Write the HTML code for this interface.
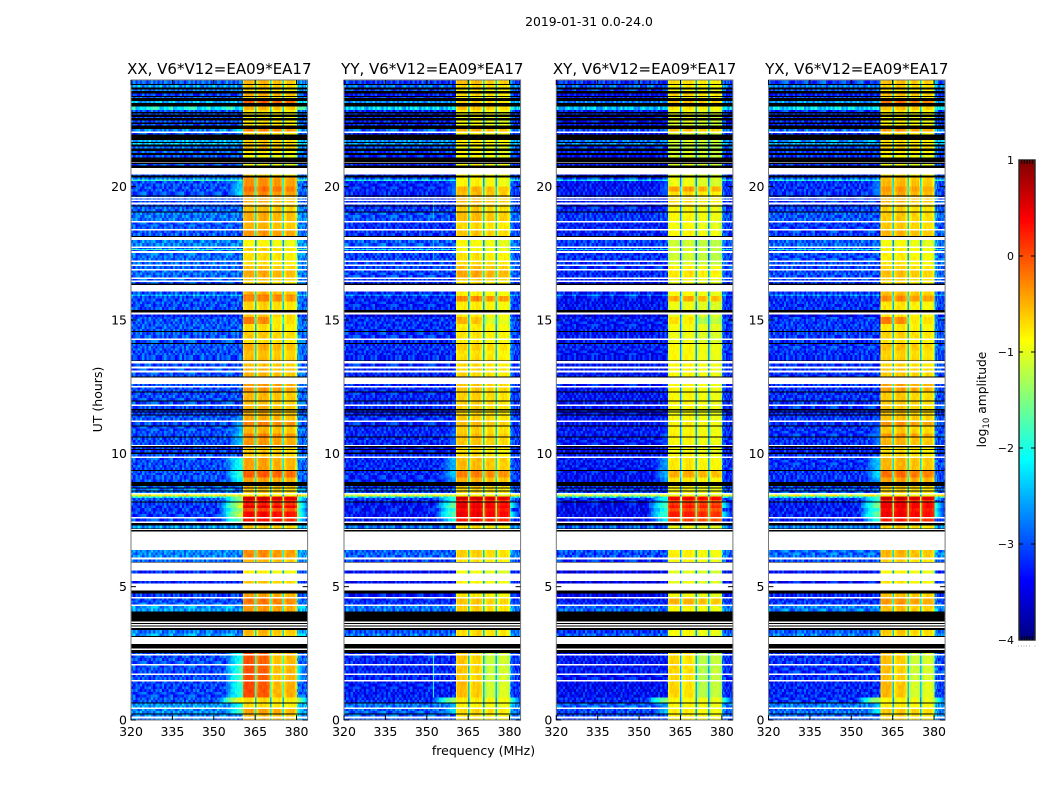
<!DOCTYPE html>
<html>
<head>
<meta charset="utf-8">
<title>2019-01-31 0.0-24.0</title>
<style>
html,body{margin:0;padding:0;background:#fff;width:1050px;height:800px;overflow:hidden}
svg{display:block}
text{font-family:"DejaVu Sans","Liberation Sans",sans-serif;fill:#000}
</style>
</head>
<body>
<svg id="figure" xmlns="http://www.w3.org/2000/svg" width="1050" height="800" viewBox="0 0 1050 800">
  <text x="589" y="26" font-size="12.4" text-anchor="middle">2019-01-31 0.0-24.0</text>
  <text x="483.5" y="755" font-size="12.5" text-anchor="middle">frequency (MHz)</text>
  <text transform="translate(102,399.5) rotate(-90)" font-size="12.5" text-anchor="middle">UT (hours)</text>
  <text transform="translate(986,399.5) rotate(-90)" font-size="12.3" text-anchor="middle">log<tspan font-size="8.6" dy="3">10</tspan><tspan dy="-3"> amplitude</tspan></text>
  <g id="panels"></g>
  <g id="colorbar"></g>
</svg>
<script>
// ---- chart data ----
const panelTitles = ["XX, V6*V12=EA09*EA17", "YY, V6*V12=EA09*EA17", "XY, V6*V12=EA09*EA17", "YX, V6*V12=EA09*EA17"];
const panelNames = ["xx", "yy", "xy", "yx"];
const freqTicks = [320, 335, 350, 365, 380];
const hourTicks = [0, 5, 10, 15, 20];
const colorbarTicks = [-4, -3, -2, -1, 0, 1];
const panelBgShift = [0, -0.2, -0.3, -0.15];
const panelShoulderShift = [0, -0.5, -0.6, -0.4];
const panelLobeShift = [0, -0.08, -0.15, -0.05];
// gain (dex) of each 0.5 MHz channel from 360.5 to 380 MHz relative to the band level
const channelGain = [-.2,-.05,0,0,0,0,0,-.05,-.2,-1.8,-.25,-.1,0,0,0,.05,.05,0,-.1,-.3,-1.8,-.3,-.15,-.05,-.05,-.05,-.05,-.1,-.25,-1.8,-.35,-.2,-.1,-.1,-.1,-.1,-.1,-.15,-.3];
// per-lobe gain used during the quiet stretches marked with a 1 in timeBands
const quietLobeGain = [.1, 0, -.4, -.3];
// drop (dex) of the shoulder below the band for channels from 350.4 to 359.2 MHz
const shoulderDrop = [2.2,2,1.8,1.5,1.2,.9,.7,.5,.35,.2,.1,0];
// offset (dex) and shoulder drop of channels from 380 to 384 MHz
const outerGain = [.55,.3,.2,.15,.1,.1,.1,.1];
const outerDrop = [.2,.4,.6,.8,1,1.2,1.4,1.6];
// hand-typed speckle tile, digits 0-9
const speckleTile = [
"38162750493716285","62047381925064173","17395062841739206","50826194370582613",
"94271836052947381","26503917468120594","71849250361784925","03672185940362718",
"85930416272859041","41257893016425783","69014327588960142"
];
// [panel index, MHz, lower hour, upper hour, level] narrow interference traces
const rfiTraces = [[1,352.2,0.85,2.5,-2.1],[1,352.2,18.8,19.5,-2.4],[1,352.2,17.3,18.0,-2.5]];
// [lower hour, noise level, XX band, YY band, XY band, YX band, shoulder level, quiet flag] or [lower hour, flag]
const timeBands = [
[23.85,-2.9,-.5,-.45,-.55,-.5],[23.81,'k'],[23.71,-2.6,-.6,-.6,-.65,-.6],[23.65,'k'],[23.59,-2.8,-.7,-.7,-.75,-.7],
[23.5,'k'],[23.4,-3.1,-.45,-.6,-.5,-.5],[23.36,'k'],[23.32,-2.9,-.7,-.8,-.75,-.7],[23.22,'k'],[23.14,-2.5,-.05,-.55,-.4,-.1],
[23.0,'k'],[22.87,-2.1,-.5,-.5,-.6,-.5],[22.8,-3.0,-.7,-.7,-.75,-.7],[22.75,'k'],[22.7,-3.0,-.8,-.8,-.8,-.8],[22.62,'k'],
[22.57,-3,-.8,-.85,-.85,-.8],[22.48,'k'],[22.41,-3.05,-.75,-.85,-.85,-.8],[22.35,'k'],[22.3,-3,-.7,-.8,-.9,-.75],[22.17,'k'],
[22.07,-2.7,-.25,-.4,-.4,-.3,-2.2],[22.01,'w'],[21.95,-3,-.7,-.8,-.9,-.75],[21.75,'k'],[21.68,-2.5,-.6,-.7,-.9,-.65],[21.64,'k'],
[21.58,-2.4,-.6,-.7,-.95,-.65],[21.5,'k'],[21.43,-2.8,-.55,-.85,-1,-.6],[21.34,'k'],[21.26,-2.9,-.75,-.8,-.9,-.7],[21.18,'k'],
[21.09,-3,-.9,-.8,-.9,-.85],[20.93,'k'],[20.9,'w'],[20.85,'k'],[20.8,-3,-.9,-.75,-.85,-.85],[20.7,'k'],[20.46,'w'],
[20.42,-3,-.7,-.75,-.85,-.7],[20.34,'k'],[20.27,-2.8,-.35,-.75,-.8,-.5],[20.22,-1.9,-.3,-.75,-.8,-.5],[20.0,-3,-.3,-.75,-.8,-.45,-2.4],
[19.82,-3,-.15,-.4,-.25,-.3,-2.3],[19.67,-3,-.3,-.45,-.55,-.4,-2.3],[19.64,'k'],[19.62,-2.9,-.45,-.45,-.55,-.45],[19.58,'w'],
[19.52,-3,-.45,-.45,-.55,-.45],[19.47,'w'],[19.4,-3,-.5,-.45,-.55,-.5],[19.33,'w'],[19.3,-3,-.55,-.5,-.6,-.55],[19.25,'k'],
[19.07,-2.9,-.55,-.55,-.7,-.6],[19.04,'k'],[18.71,-2.8,-.45,-.45,-.7,-.55],[18.67,'w'],[18.42,-2.95,-.5,-.6,-.75,-.55],[18.38,'w'],
[18.15,-2.95,-.35,-.5,-.7,-.45],[18.12,'k'],[18.0,'w'],[17.76,-2.75,-.85,-.8,-.95,-.85],[17.7,'w'],[17.66,-2.9,-.7,-.8,-.9,-.8],[17.62,-1.9,-.6,-.8,-.9,-.7],[17.59,-2.9,-.7,-.8,-.9,-.8],[17.52,'w'],
[17.23,-2.85,-.7,-.65,-.95,-.75],[17.19,'w'],[17.09,-2.85,-.7,-.6,-.9,-.7],[17.05,'w'],[16.92,-2.85,-.55,-.45,-.65,-.6],[16.87,'w'],
[16.59,-2.85,-.45,-.35,-.6,-.5],[16.53,'w'],[16.48,-2.9,-.6,-.55,-.7,-.6],[16.44,'w'],[16.36,-3,-.7,-.7,-.8,-.7],[16.31,'k'],[16.06,'w'],
[15.95,-3,-.5,-.7,-.7,-.5],[15.9,-2.5,-.2,-.7,-.75,-.4],[15.7,-3,-.25,-.2,-.3,-.25],[15.375,-3,-.65,-.7,-.8,-.7],[15.275,'k'],[15.22,'w'],
[15.12,-3.3,-.6,-.7,-.8,-.7],[14.85,-2.95,-.3,-.5,-.65,-.25,null,1],[14.58,-2.95,-.7,-.7,-.75,-.7],[14.55,'k'],[14.31,-2.95,-.6,-.65,-.8,-.6],[14.25,'w'],
[14.13,-3,-.7,-.7,-.8,-.7],[14.1,'k'],[13.85,-2.95,-.45,-.55,-.7,-.5],[13.6,-3,-.55,-.65,-.7,-.6],[13.49,-3,-.5,-.6,-.7,-.55],[13.46,'k'],[13.37,'w'],
[13.25,-3,-.55,-.6,-.7,-.6],[13.2,'w'],[13.1,-3,-.5,-.6,-.7,-.55],[13.05,'w'],[12.88,-3,-.5,-.6,-.7,-.55],[12.84,'k'],[12.6,'w'],
[12.52,-3,-.35,-.5,-.7,-.35],[12.49,'w'],[12.31,-3,-.35,-.5,-.7,-.35],[12.28,'k'],[11.98,-3,-.5,-.55,-.7,-.55],[11.96,'k'],[11.83,-3,-.55,-.55,-.7,-.55],
[11.79,'w'],[11.66,-3,-.5,-.55,-.7,-.55],[11.6,'k'],[11.56,-3.1,-.5,-.6,-.75,-.55],[11.53,'k'],[11.46,-3.1,-.5,-.6,-.75,-.55],[11.44,'k'],
[11.24,-2.95,-.45,-.55,-.7,-.5,-2.7],[11.2,'w'],[11.05,-3,-.25,-.45,-.65,-.3,-2.5],[11.02,'k'],[10.75,-3,-.5,-.55,-.7,-.55,-2.5],
[10.63,-3,-.25,-.45,-.65,-.3,-2.3],[10.6,'k'],[10.31,-3,-.35,-.5,-.7,-.45,-2.4],[10.27,'w'],[10.22,'k'],[10.16,-3.1,-.6,-.6,-.7,-.65],[10.12,'k'],
[10.04,-3.1,-.6,-.65,-.75,-.65],[9.98,'k'],[9.88,-3,-.6,-.6,-.7,-.6],[9.84,'w'],[9.38,-3,-.4,-.45,-.6,-.45,-2],[9.35,'k'],[9.1,-3,-.05,-.15,-.3,-.1,-1.9],
[8.92,-3,-.4,-.4,-.6,-.35,-2.1],[8.78,'k'],[8.72,-2.9,-.5,-.55,-.7,-.55],[8.68,'k'],[8.6,-2.8,-.6,-.6,-.7,-.6],[8.57,'k'],[8.52,-2.8,-.6,-.6,-.7,-.6],[8.47,'w'],
[8.38,-.9,-.8,-.8,-.8,-.8],[8.32,-2.2,.6,.7,.55,.7,-1.4],[8.25,-2.9,.65,.7,.6,.7,-1.4],[8.19,-3,.3,.3,.2,.25,-1.6],[8.16,'k'],[8.05,-3.1,.25,.5,.3,.5,-1.2],[7.95,-3.1,.55,.6,.45,.55,-1.1],
[7.82,-3.1,.05,.45,.2,.4,-1.4],[7.62,-3.1,.4,.55,.4,.5,-1.2],[7.59,'w'],[7.44,-3.05,.3,.35,.2,.3,-1.6],[7.39,'w'],[7.3,'k'],[7.19,-2.6,-.6,-.65,-.75,-.6],
[7.17,'k'],[7.12,'w'],[7.06,'k'],[6.37,'w'],[6.1,-2.7,-.3,-.55,-.65,-.45],[6.02,'w'],[5.93,-2.9,-.5,-.65,-.7,-.6],[5.9,'k'],[5.6,'w'],[5.5,-3.2,-.8,-.85,-.85,-.8],
[5.21,'w'],[5.125,-3.2,-.6,-.75,-.8,-.7],[4.85,'w'],[4.75,'k'],[4.62,-3.1,-.4,-.7,-.75,-.5],[4.57,'w'],[4.41,-3.0,-.2,-.5,-.35,-.3],[4.34,-2.9,-.2,-.5,-.35,-.3],[4.3,'w'],
[4.06,-2.6,-.35,-.55,-.7,-.5],[3.69,'k'],[3.64,'w'],[3.6,'k'],[3.55,'w'],[3.5,'k'],[3.45,'w'],[3.37,'k'],[3.25,-2.8,-.5,-.6,-.7,-.55],[3.15,-2.6,-.55,-.6,-.75,-.6],
[3.12,'k'],[2.85,'w'],[2.69,'k'],[2.62,'w'],[2.51,'k'],[2.47,-3,-.1,-.6,-.6,-.6,-2,1],[2.44,'w'],[2.1,-3,-.1,-.6,-.6,-.6,-2,1],[2.07,'w'],[1.75,-3,-.1,-.6,-.6,-.6,-1.8,1],[1.72,'w'],
[1.5,-3,-.1,-.6,-.6,-.6,-1.8,1],[1.47,'w'],[0.85,-3.05,-.05,-.55,-.6,-.55,-1.9,1],[0.66,-2.95,-.7,-.7,-.7,-.8,-.9],[0.63,'k'],[0.475,-2.6,-.7,-.75,-.7,-.75,-2],[0.44,'w'],
[0.25,-2.7,-.4,-.6,-.65,-.55,-1.8],[0.22,'k'],[0.125,-2.7,-.5,-.65,-.65,-.6],[0.09,'w'],[0,-2.8,-.5,-.65,-.65,-.6]
];

// ---- layout and scales ----
const SVGNS = "http://www.w3.org/2000/svg";
const panelLefts = [131, 344, 556.3, 768.5];
const plotWidth = 176.6, plotTop = 80, plotBottom = 720;
const fMin = 320, fMax = 384, hMin = 0, hMax = 24, vMin = -4, vMax = 1;
function xScale(left, f) { return left + (f - fMin) / (fMax - fMin) * plotWidth; }
function widthOf(df) { return df / (fMax - fMin) * plotWidth; }
function yScale(h) { return plotBottom - (h - hMin) / (hMax - hMin) * (plotBottom - plotTop); }
function clamp01(a) { return a < 0 ? 0 : a > 1 ? 1 : a; }
function jet(v) {
  const t = clamp01((v - vMin) / (vMax - vMin));
  const r = clamp01(1.5 - Math.abs(4 * t - 3)), g = clamp01(1.5 - Math.abs(4 * t - 2)), b = clamp01(1.5 - Math.abs(4 * t - 1));
  return "rgb(" + Math.round(r * 255) + "," + Math.round(g * 255) + "," + Math.round(b * 255) + ")";
}
function speckle(row, col, p) {
  const line = speckleTile[(row + p * 3) % speckleTile.length];
  return (Number(line[(col + p * 5) % line.length]) - 4.5) * 0.085;
}
function makeRect(parent, x, y, w, h, fill) {
  const r = document.createElementNS(SVGNS, "rect");
  r.setAttribute("x", x.toFixed(2));
  r.setAttribute("y", y.toFixed(2));
  r.setAttribute("width", w.toFixed(2));
  r.setAttribute("height", h.toFixed(2));
  r.setAttribute("fill", fill);
  r.setAttribute("shape-rendering", "crispEdges");
  parent.appendChild(r);
  return r;
}
function makeCell(parent, x, y, w, h, fill) {
  const cell = makeRect(parent, x, y, w, h, fill);
  
  
  return cell;
}
function makeLine(parent, x1, y1, x2, y2, stroke) {
  const l = document.createElementNS(SVGNS, "line");
  l.setAttribute("x1", x1);
  l.setAttribute("y1", y1);
  l.setAttribute("x2", x2);
  l.setAttribute("y2", y2);
  l.setAttribute("stroke", stroke);
  l.setAttribute("stroke-width", "1");
  parent.appendChild(l);
  return l;
}
function makeText(parent, x, y, str, size, anchor) {
  const t = document.createElementNS(SVGNS, "text");
  t.setAttribute("x", x);
  t.setAttribute("y", y);
  t.setAttribute("font-size", size);
  t.setAttribute("text-anchor", anchor);
  t.textContent = str;
  parent.appendChild(t);
  return t;
}

const noiseStep = 0.8, laneStep = 0.1, lobeLane = 0.15;
function drawPanel(p) {
  const left = panelLefts[p];
  const g = document.createElementNS(SVGNS, "g");
  
  
  document.getElementById("panels").appendChild(g);
  let upper = hMax;
  timeBands.forEach(function (band) {
    const lower = band[0];
    const yTop = yScale(upper), yBot = yScale(lower);
    if (band[1] !== 'w' && band[1] !== 'k') {
      const level = band[2 + p] + panelLobeShift[p];
      const noise = band[1] + panelBgShift[p];
      const quiet = band[7] === 1;
      let shoulder = (band[6] === undefined || band[6] === null) ? null : band[6] + panelShoulderShift[p];
      if (quiet && p !== 0) shoulder = null;
      const rowsInBand = Math.max(1, Math.round((upper - lower) / laneStep));
      const rowH = (yBot - yTop) / rowsInBand;
      for (let r = 0; r < rowsInBand; r++) {
        const rowIndex = Math.round((hMax - upper) / laneStep) + r;
        const rowY = yTop + r * rowH;
        for (let c = 0; c < 50; c++) {
          const f = fMin + c * noiseStep;
          let v = noise + speckle(rowIndex, c, p);
          if (shoulder !== null && c >= 38) v = Math.max(v, shoulder - shoulderDrop[c - 38] + speckle(rowIndex, c, p) * 0.4);
          makeCell(g, xScale(left, f), rowY, widthOf(noiseStep) + 0.3, rowH + 0.2, jet(v));
        }
        makeCell(g, xScale(left, 360), rowY, widthOf(0.5) + 0.3, rowH + 0.2, jet(shoulder !== null ? shoulder : noise + speckle(rowIndex, 33, p)));
        for (let c = 0; c < outerGain.length; c++) {
          const f = 380 + c * 0.5;
          let v = noise + outerGain[c] + speckle(rowIndex, c + 40, p);
          if (shoulder !== null && shoulder > -1.9) v = Math.max(v, shoulder - outerDrop[c]);
          makeCell(g, xScale(left, f), rowY, widthOf(0.5) + 0.3, rowH + 0.2, jet(v));
        }
      }
      // bright receiver band 360.5-380 MHz: lobes first, gaps drawn on top
      const lobeRows = Math.max(1, Math.round((upper - lower) / lobeLane));
      const lobeH = (yBot - yTop) / lobeRows;
      for (let r = 0; r < lobeRows; r++) {
        const rowIndex = Math.round((hMax - upper) / lobeLane) + r;
        const rowY = yTop + r * lobeH;
        channelGain.forEach(function (gain, c) {
          if (gain < -1) return;
          let v = level + gain + speckle(rowIndex, c, p) * 0.2;
          if (quiet) v += quietLobeGain[Math.min(3, Math.floor(c / 10))];
          makeCell(g, xScale(left, 360.5 + c * 0.5), rowY, widthOf(0.5) + 0.3, lobeH + 0.2, jet(v));
        });
      }
      channelGain.forEach(function (gain, c) {
        if (gain >= -1) return;
        makeCell(g, xScale(left, 360.4 + c * 0.5), yTop, widthOf(0.55), yBot - yTop + 0.2, jet(level + gain));
      });
    }
    upper = lower;
  });
  rfiTraces.forEach(function (tr) {
    if (tr[0] !== p) return;
    const trace = makeRect(g, xScale(left, tr[1]), yScale(tr[3]), widthOf(0.5), yScale(tr[2]) - yScale(tr[3]), jet(tr[4]));
    
    
  });
  // flagged rows go on top so that thin ones stay visible
  upper = hMax;
  timeBands.forEach(function (band) {
    const lower = band[0];
    const yTop = yScale(upper), yBot = yScale(lower);
    if (band[1] === 'k') {
      const blackRow = makeRect(g, left, yTop, plotWidth, Math.max(yBot - yTop, 1), "#000");
      
      
    } else if (band[1] === 'w') {
      const whiteRow = makeRect(g, left, yTop, plotWidth, Math.max(yBot - yTop, 1.6), "#fff");
      
      
    }
    upper = lower;
  });

  const frame = document.createElementNS(SVGNS, "rect");
  frame.setAttribute("x", left);
  frame.setAttribute("y", plotTop);
  frame.setAttribute("width", plotWidth);
  frame.setAttribute("height", plotBottom - plotTop);
  frame.setAttribute("fill", "none");
  frame.setAttribute("stroke", "#777");
  frame.setAttribute("stroke-width", "1");
  
  
  g.appendChild(frame);

  freqTicks.forEach(function (f) {
    const x = xScale(left, f);
    const tb = makeLine(g, x, plotBottom, x, plotBottom - 5, "#000");
    
    
    const tt = makeLine(g, x, plotTop, x, plotTop + 5, "#000");
    
    
    const lab = makeText(g, x, 736, String(f), 12.5, "middle");
    
    
  });
  hourTicks.forEach(function (h) {
    const y = yScale(h);
    const tl = makeLine(g, left, y, left + 5, y, "#000");
    
    
    const tr = makeLine(g, left + plotWidth, y, left + plotWidth - 5, y, "#000");
    
    
    const lab = makeText(g, left - 4, y + 4.5, String(h), 12.5, "end");
    
    
  });
  const title = makeText(g, left + plotWidth / 2, 74, panelTitles[p], 15, "middle");
  
  
}
panelTitles.forEach(function (_, p) { drawPanel(p); });

// ---- colorbar ----
(function () {
  const g = document.getElementById("colorbar");
  const cbLeft = 1019, cbRight = 1035, cbTop = 160, cbBottom = 640;
  function cbY(v) { return cbBottom - (v - vMin) / (vMax - vMin) * (cbBottom - cbTop); }
  const steps = 240;
  for (let i = 0; i < steps; i++) {
    const v0 = vMin + (vMax - vMin) * i / steps;
    const v1 = vMin + (vMax - vMin) * (i + 1) / steps;
    const s = makeRect(g, cbLeft, cbY(v1), cbRight - cbLeft, cbY(v0) - cbY(v1) + 0.2, jet((v0 + v1) / 2));
    
    
  }
  const frame = document.createElementNS(SVGNS, "rect");
  frame.setAttribute("x", cbLeft);
  frame.setAttribute("y", cbTop);
  frame.setAttribute("width", cbRight - cbLeft);
  frame.setAttribute("height", cbBottom - cbTop);
  frame.setAttribute("fill", "none");
  frame.setAttribute("stroke", "#222");
  frame.setAttribute("stroke-width", "1.4");
  
  
  g.appendChild(frame);
  colorbarTicks.forEach(function (v) {
    const y = cbY(v);
    if (v !== vMin && v !== vMax) {
      const a = makeLine(g, cbLeft, y, cbLeft + 4, y, "#000");
      
      
      const b = makeLine(g, cbRight, y, cbRight - 4, y, "#000");
      
      
    }
    const lab = makeText(g, 1014, y + 4, v < 0 ? "\u2212" + Math.abs(v) : String(v), 11, "end");
    
    
  });
  for (let i = 1; i < 6; i++) {
    const x = cbLeft + i * (cbRight - cbLeft) / 6;
    const t1 = makeLine(g, x, cbTop, x, cbTop + 4, "#000");
    
    
    const t2 = makeLine(g, x, cbBottom, x, cbBottom - 4, "#000");
    
    
    const dot = makeRect(g, x - 3.5, 645.5, 1, 1, "#aaa");
    
    
  }
  const lastDot = makeRect(g, cbRight - 0.5, 645.5, 1, 1, "#aaa");
  
  
})();
</script>
</body>
</html>
